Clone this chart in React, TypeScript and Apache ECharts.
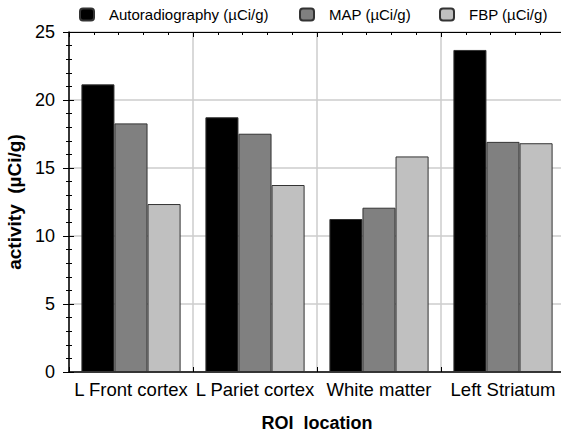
import React, { useEffect, useRef } from "react";
import * as echarts from "echarts";

const categories = ["L Front cortex", "L Pariet cortex", "White matter", "Left Striatum"];
const seriesNames = ["Autoradiography (µCi/g)", "MAP (µCi/g)", "FBP (µCi/g)"];
const autoradiography = [21.15, 18.73, 11.25, 23.68];
const mapValues = [18.28, 17.52, 12.08, 16.92];
const fbpValues = [12.35, 13.75, 15.85, 16.82];
const colors = ["#000000", "#808080", "#c0c0c0"];
const yTicks = { min: 0, max: 25, interval: 5 };

export default function App() {
  const ref = useRef<HTMLDivElement>(null);
  useEffect(() => {
    if (!ref.current) return;
    const chart = echarts.init(ref.current, null, { renderer: "svg" });
    const font = "'Liberation Sans', Arial, sans-serif";
    const allData = [autoradiography, mapValues, fbpValues];
    const legendLefts = [79, 299, 439];
    chart.setOption({
      animation: false,
      backgroundColor: "#ffffff",
      textStyle: { fontFamily: font },
      legend: seriesNames.map((n, i) => ({
        data: [n],
        left: legendLefts[i],
        top: 7,
        itemWidth: 14,
        itemHeight: 12,
        padding: 0,
        selectedMode: false,
        textStyle: { fontSize: 15, color: "#000", fontFamily: font, padding: [0, 0, 0, 10] },
      })),
      grid: { left: 69, right: -4, top: 32, bottom: 61, containLabel: false, outerBoundsMode: "none" },
      xAxis: [
        {
          type: "category",
          data: categories,
          position: "bottom",
          axisLine: { show: true, lineStyle: { color: "#000", width: 1.5 } },
          axisTick: { show: false },
          splitLine: { show: true, lineStyle: { color: "#cccccc", width: 1.5 } },
          axisLabel: { interval: 0, fontSize: 18.5, color: "#000", margin: 8, fontFamily: font, hideOverlap: false },
          name: "ROI  location",
          nameLocation: "middle",
          nameGap: 42,
          nameTextStyle: { fontSize: 18, fontWeight: "bold", color: "#000", fontFamily: font },
        },
        {
          type: "value",
          min: 0,
          max: 4,
          interval: 1,
          position: "bottom",
          axisLine: { show: false },
          axisTick: { show: true, inside: true, length: 5, lineStyle: { color: "#000" } },
          minorTick: { show: true, splitNumber: 5, length: 3, lineStyle: { color: "#000" } },
          axisLabel: { show: false },
          splitLine: { show: false },
        },
        {
          type: "value",
          min: 0,
          max: 4,
          interval: 1,
          position: "top",
          axisLine: { show: true, lineStyle: { color: "#000", width: 1 } },
          axisTick: { show: true, inside: true, length: 5, lineStyle: { color: "#000" } },
          minorTick: { show: true, splitNumber: 5, length: 3, lineStyle: { color: "#000" } },
          axisLabel: { show: false },
          splitLine: { show: false },
        },
      ],
      yAxis: [
        {
          type: "value",
          min: yTicks.min,
          max: yTicks.max,
          interval: yTicks.interval,
          position: "left",
          axisLine: { show: true, lineStyle: { color: "#000", width: 1.5 } },
          axisTick: { show: true, inside: true, length: 5, lineStyle: { color: "#000" } },
          minorTick: { show: true, splitNumber: 5, length: 3, lineStyle: { color: "#000" } },
          splitLine: { show: true, lineStyle: { color: "#cccccc", width: 1.5 } },
          axisLabel: { fontSize: 18, color: "#000", margin: 14, fontFamily: font },
          name: "activity  (µCi/g)",
          nameLocation: "middle",
          nameGap: 37,
          nameTextStyle: { fontSize: 19, fontWeight: "bold", color: "#000", fontFamily: font },
        },
        {
          type: "value",
          min: yTicks.min,
          max: yTicks.max,
          interval: yTicks.interval,
          position: "right",
          axisLine: { show: false },
          axisTick: { show: true, inside: true, length: 6, lineStyle: { color: "#000" } },
          minorTick: { show: true, splitNumber: 5, length: 3, lineStyle: { color: "#000" } },
          splitLine: { show: false },
          axisLabel: { show: false },
        },
      ],
      series: seriesNames.map((n, i) => ({
        name: n,
        type: "bar",
        xAxisIndex: 0,
        yAxisIndex: 0,
        data: allData[i],
        barGap: "0%",
        barCategoryGap: "20%",
        itemStyle: { color: colors[i], borderColor: "#333333", borderWidth: 1, borderRadius: 0 },
      })),
    });
    return () => chart.dispose();
  }, []);
  return (
    <div style={{ position: "absolute", left: 0, top: 0, width: 561, height: 433, background: "#fff" }}>
      <div ref={ref} style={{ width: 561, height: 433 }} />
    </div>
  );
}
